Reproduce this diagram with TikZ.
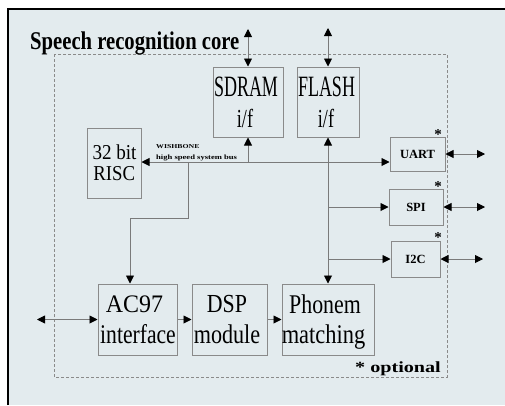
\documentclass[tikz,border=0pt]{standalone}
\usepackage{graphicx}
\usepackage{fontspec}
\setmainfont{Liberation Serif}
\newfontfamily\condfont[FakeStretch=0.81]{Liberation Serif}
\newfontfamily\widefont[FakeStretch=1.3]{Liberation Serif}
\usetikzlibrary{arrows.meta}
\definecolor{bg}{HTML}{E3EBEE}
\definecolor{boxline}{HTML}{8A8A8A}
\definecolor{wirecol}{HTML}{7A7A7A}
\definecolor{dashcol}{HTML}{8A8A8A}
\newcommand\mkline[3]{{\fontsize{#1}{#1}\selectfont\scalebox{#2}[1]{#3}}}
\begin{document}
\begin{tikzpicture}[x=1pt,y=-1pt,
  >={Triangle[length=8pt,width=8pt,black]},
  blk/.style={draw=boxline, line width=1pt, fill=bg, inner sep=0pt},
  lbl/.style={anchor=base, inner sep=0pt},
  wire/.style={draw=wirecol, line width=0.9pt},
  iotxt/.style={font=\bfseries\fontsize{12.5}{14}\selectfont},
  startxt/.style={font=\bfseries\fontsize{15}{15}\selectfont, anchor=base, inner sep=0pt}
]
\useasboundingbox (0,0) rectangle (505,405);
\fill[white] (0,0) rectangle (505,405);
\fill[bg] (8,9) rectangle (505,405);
\draw[black, line width=1.5pt] (8,405) -- (8,9) -- (505,9);

% dashed core outline
\draw[dashcol, line width=0.7pt, dash pattern=on 3pt off 2pt] (54,54) rectangle (447,377);

% title
\node[anchor=base west, inner sep=0pt, font=\condfont\bfseries\fontsize{25.5}{30}\selectfont] (title) at (30,49) {Speech recognition core};

% blocks
\node[blk, minimum width=70pt, minimum height=70pt] (sdram) at (248,102) {};
\node[blk, minimum width=62pt, minimum height=70pt] (flash) at (328,102) {};
\node[blk, minimum width=54pt, minimum height=70pt] (risc) at (114,163) {};
\node[blk, minimum width=55pt, minimum height=34pt, iotxt] (uart) at (417.5,154) {UART};
\node[blk, minimum width=54pt, minimum height=36pt, iotxt] (spi) at (416,207) {SPI};
\node[blk, minimum width=49pt, minimum height=36pt, iotxt] (i2c) at (415.5,259) {I2C};
\node[blk, minimum width=79pt, minimum height=71pt] (ac97) at (137.5,319.5) {};
\node[blk, minimum width=75pt, minimum height=71pt] (dsp) at (229.5,319.5) {};
\node[blk, minimum width=92pt, minimum height=71pt] (phonem) at (328,319.5) {};

% block texts
\node[lbl] (sdramA) at (246,96) {\mkline{29.5}{0.61}{SDRAM}};
\node[lbl] (sdramB) at (245,127.5) {\mkline{26}{0.7}{i/f}};
\node[lbl] (flashA) at (326.5,96) {\mkline{29.5}{0.61}{FLASH}};
\node[lbl] (flashB) at (326,127.5) {\mkline{26}{0.7}{i/f}};
\node[lbl] (riscA) at (114.5,159.3) {\mkline{21.2}{0.9}{32 bit}};
\node[lbl] (riscB) at (114.2,180.7) {\mkline{21.2}{0.885}{RISC}};
\node[lbl] (ac97A) at (134.5,312) {\mkline{25.2}{0.95}{AC97}};
\node[lbl] (ac97B) at (138,343) {\mkline{27}{0.8}{interface}};
\node[lbl] (dspA) at (227,312.3) {\mkline{26}{0.84}{DSP}};
\node[lbl] (dspB) at (227,343) {\mkline{27}{0.82}{module}};
\node[lbl] (phonemA) at (325,313) {\mkline{27}{0.81}{Phonem}};
\node[lbl] (phonemB) at (323.5,343) {\mkline{27}{0.83}{matching}};

% asterisks
\node[startxt] (staruart) at (438,139) {*};
\node[startxt] (starspi) at (438,191) {*};
\node[startxt] (stari2c) at (438,242) {*};

% bus labels
\node[anchor=base west, inner sep=0pt, font=\widefont\bfseries\fontsize{6}{7}\selectfont] (wb) at (156,148) {WISHBONE};
\node[anchor=base west, inner sep=0pt, font=\widefont\bfseries\fontsize{6.6}{7}\selectfont] (hsb) at (156,159) {high speed system bus};

% optional note
\node[anchor=base west, inner sep=0pt, font=\widefont\bfseries\fontsize{15.5}{16}\selectfont] (opt) at (355,372) {* optional};

% external ends
\coordinate (sdramext) at (248,29);
\coordinate (flashext) at (328,28);
\coordinate (bus) at (141,162);
\coordinate (tap) at (188,162);
\coordinate (bend) at (188,218);
\coordinate (bend2) at (130,218);
\coordinate (uartext) at (485,154);
\coordinate (spiext) at (485,207);
\coordinate (i2cext) at (483,259);
\coordinate (acext) at (37,319.5);

% connectors
\draw[wire,<->] (sdramext) -- (sdram.north);
\draw[wire,<->] (flashext) -- (flash.north);
\draw[wire,<->] (risc.east |- bus) -- (uart.west |- bus);
\draw[wire,->] (sdram.south |- bus) -- (sdram.south);
\draw[wire,->] (tap) -- (bend) -- (bend2) -- (bend2 |- ac97.north);
\draw[wire,<->] (flash.south) -- (phonem.north);
\draw[wire,->] (flash.south |- spi.west) -- (spi.west);
\draw[wire,->] (flash.south |- i2c.west) -- (i2c.west);
\draw[wire,<->] (uart.east) -- (uartext);
\draw[wire,<->] (spi.east) -- (spiext);
\draw[wire,<->] (i2c.east) -- (i2cext);
\draw[wire,<->] (acext) -- (ac97.west);
\draw[wire,->] (ac97) -- (dsp);
\draw[wire,->] (dsp) -- (phonem);
\end{tikzpicture}
\end{document}
